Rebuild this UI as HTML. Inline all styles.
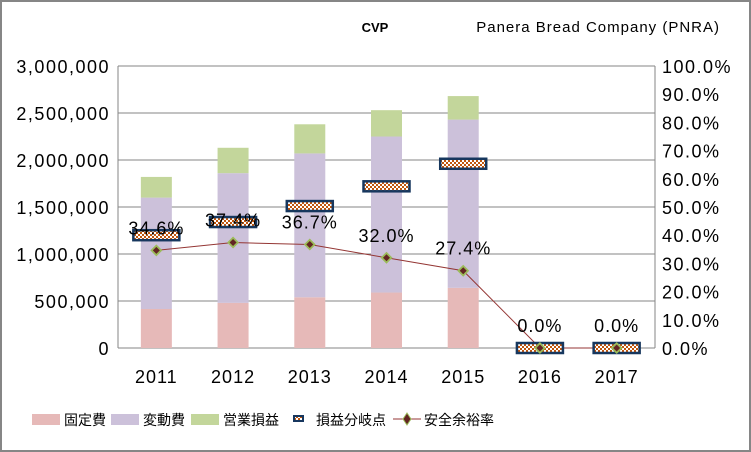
<!DOCTYPE html>
<html><head><meta charset="utf-8"><style>
body{margin:0;background:#fff}
svg{display:block;font-family:"Liberation Sans","Noto Sans CJK JP",sans-serif}
</style></head><body>
<svg id="c" width="751" height="452">
<defs><pattern id="chk" width="4" height="4" patternUnits="userSpaceOnUse"><rect width="4" height="4" fill="#fff"/><rect width="2" height="2" fill="#c0560e"/><rect x="2" y="2" width="2" height="2" fill="#c0560e"/></pattern></defs>
<rect x="1" y="1" width="749" height="450" fill="#fff" stroke="#868686" stroke-width="2"/>
<text x="375" y="32" font-size="13" font-weight="bold" text-anchor="middle">CVP</text>
<text x="720" y="32" font-size="15" letter-spacing="1" text-anchor="end">Panera Bread Company (PNRA)</text>
<g id="g"></g>
</svg>
<script>
const categories=['2011','2012','2013','2014','2015','2016','2017'];
const fixedCost=[415000,480000,540000,590000,640000,0,0];
const variableCost=[1185000,1380000,1530000,1660000,1790000,0,0];
const operatingProfit=[220000,270000,310000,280000,250000,0,0];
const breakEven=[1200000,1340000,1510000,1720000,1960000,0,0];
const safetyMargin=[34.6,37.4,36.7,32.0,27.4,0.0,0.0];
const leftTicks=['0','500,000','1,000,000','1,500,000','2,000,000','2,500,000','3,000,000'];
const rightTicks=['0.0%','10.0%','20.0%','30.0%','40.0%','50.0%','60.0%','70.0%','80.0%','90.0%','100.0%'];
const NS='http://www.w3.org/2000/svg',g=document.getElementById('g');
const X0=118,X1=655,Y0=348,Y1=66;
const bw=(X1-X0)/categories.length;
const xc=i=>X0+bw*(i+0.5);
const yL=v=>Y0-(v/3000000)*(Y0-Y1);
const yR=p=>Y0-(p/100)*(Y0-Y1);
function el(t,a){const e=document.createElementNS(NS,t);for(const k in a)e.setAttribute(k,a[k]);g.appendChild(e);return e;}
leftTicks.forEach((t,i)=>{const y=yL(i*500000);
 const l=el('line',{x1:X0,x2:X1,y1:y,y2:y,stroke:'#868686','stroke-width':1});
 
 const tx=el('text',{x:110,y:y+7,'font-size':18,'letter-spacing':1.5,'text-anchor':'end'});tx.textContent=t;
 });
rightTicks.forEach((t,i)=>{const y=yR(i*10);
 const tx=el('text',{x:662,y:y+7,'font-size':18,'letter-spacing':1.5});tx.textContent=t;
 });
let a=el('line',{x1:X0,x2:X0,y1:Y1,y2:Y0,stroke:'#868686'});
a=el('line',{x1:X1,x2:X1,y1:Y1,y2:Y0,stroke:'#868686'});
categories.forEach((c,i)=>{
 const x=xc(i)-15.5;let b=0;
 [[fixedCost,'#e6b9b8','bar-fixed-cost'],[variableCost,'#ccc1da','bar-variable-cost'],[operatingProfit,'#c3d69b','bar-operating-profit']].forEach(([arr,col,n])=>{
  const v=arr[i];if(v>0){const r=el('rect',{x:x,y:yL(b+v),width:31,height:yL(b)-yL(b+v),fill:col});
  }b+=v;});
 const tx=el('text',{x:xc(i),y:383,'font-size':18,'letter-spacing':1,'text-anchor':'middle'});tx.textContent=c;
 
});
const pts=safetyMargin.map((p,i)=>xc(i)+','+yR(p)).join(' ');
let pl=el('polyline',{points:pts,fill:'none',stroke:'#943634','stroke-width':1});

breakEven.forEach((v,i)=>{const y=yL(v);
 const r=el('rect',{x:xc(i)-23,y:y-5,width:46,height:10,fill:'url(#chk)',stroke:'#17375e','stroke-width':2.5});
 });
safetyMargin.forEach((p,i)=>{const x=xc(i),y=yR(p);
 const d=el('polygon',{points:`${x},${y-6} ${x+6},${y} ${x},${y+6} ${x-6},${y}`,fill:'#9bbb59'});
 
 const d2=el('polygon',{points:`${x},${y-3.5} ${x+3.5},${y} ${x},${y+3.5} ${x-3.5},${y}`,fill:'#632523'});
 
 const t=el('text',{x:x,y:y-16,'font-size':18,'letter-spacing':1,'text-anchor':'middle'});t.textContent=p.toFixed(1)+'%';
 });
// legend
const lg=[['固定費',32],['変動費',111],['営業損益',191]];
const cols=['#e6b9b8','#ccc1da','#c3d69b'];
lg.forEach(([t,x],i)=>{const r=el('rect',{x:x,y:414,width:28,height:11,fill:cols[i]});
 
 const tx=el('text',{x:x+32,y:425,'font-size':14});tx.textContent=t;
 });
let r=el('rect',{x:294,y:416,width:9,height:5,fill:'url(#chk)',stroke:'#17375e','stroke-width':2});

let tx=el('text',{x:316,y:425,'font-size':14});tx.textContent='損益分岐点';

r=el('line',{x1:393,x2:421,y1:419,y2:419,stroke:'#943634'});
r=el('polygon',{points:'407,413 411,419 407,425 403,419',fill:'#632523',stroke:'#9bbb59'});
tx=el('text',{x:424,y:425,'font-size':14});tx.textContent='安全余裕率';

</script>
</body></html>
